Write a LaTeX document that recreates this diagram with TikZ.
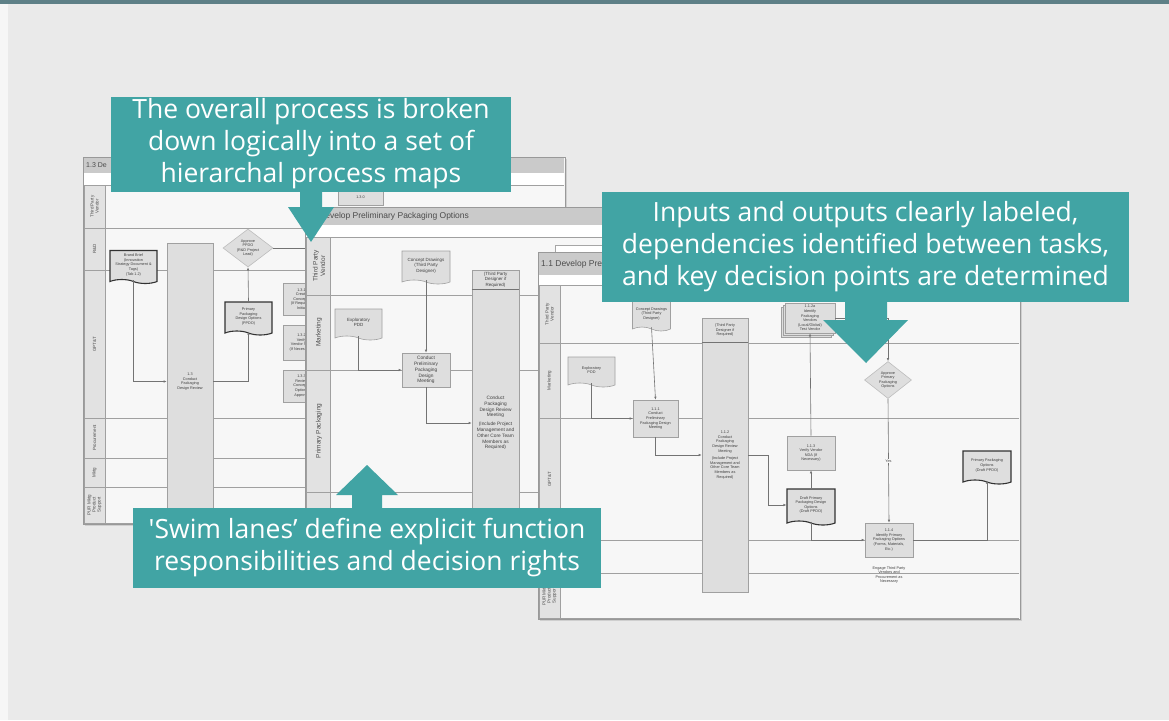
\documentclass[tikz,border=0pt]{standalone}
\usepackage{fontspec}
\setmainfont{Open Sans}
\newfontfamily\callfont{Open Sans}
\newfontfamily\mapfont{Liberation Sans}
\usetikzlibrary{shapes.geometric,shapes.symbols,shadows,arrows.meta}

\definecolor{slidebg}{RGB}{234,234,234}
\definecolor{topbar}{RGB}{94,128,135}
\definecolor{callteal}{RGB}{65,164,164}
\definecolor{sheetbg}{RGB}{247,247,247}
\definecolor{titlegray}{RGB}{202,202,202}
\definecolor{lanegray}{RGB}{226,226,226}
\definecolor{taskgray}{RGB}{222,222,222}
\definecolor{edgegray}{RGB}{160,160,160}

\tikzset{
  callout/.style={fill=callteal, text=white, align=center, inner sep=0pt,
    font=\callfont\fontsize{26.5}{32}\selectfont},
  sheet/.style={draw=black!40, line width=1pt, fill=sheetbg,
    drop shadow={opacity=.25, shadow xshift=1.5pt, shadow yshift=-2pt}},
  lanecol/.style={draw=edgegray, line width=.6pt, fill=lanegray},
  lane/.style={draw=edgegray, line width=.7pt},
  lanelabel/.style={rotate=90, align=center, text=black!70, inner sep=0pt,
    font=\mapfont\fontsize{4.5}{5}\selectfont},
  biglabel/.style={lanelabel, font=\mapfont\fontsize{6.5}{7.5}\selectfont},
  sheettitle/.style={anchor=west, inner sep=0pt, text=black!70,
    font=\mapfont\fontsize{8.5}{9}\selectfont},
  task/.style={draw=edgegray, line width=.6pt, fill=taskgray, align=center,
    inner sep=1pt, text=black!75, font=\mapfont\fontsize{3.8}{4.6}\selectfont},
  bigtask/.style={task, font=\mapfont\fontsize{4.8}{5.8}\selectfont},
  tasktext/.style={align=center, inner sep=0pt, text=black!75,
    font=\mapfont\fontsize{3.8}{4.6}\selectfont},
  doc/.style={task, tape, tape bend top=none, tape bend bottom=out and in,
    tape bend height=4pt},
  keydoc/.style={doc, draw=black!80, line width=1.1pt},
  decide/.style={task, diamond, aspect=1.3, inner sep=0pt, draw=edgegray!70},
  flow/.style={draw=black!55, line width=.6pt, -{Latex[length=3pt,width=2.5pt]}},
  plain/.style={draw=black!55, line width=.6pt},
  flowlabel/.style={fill=sheetbg, inner sep=.5pt, text=black!70,
    font=\mapfont\fontsize{3.8}{4.6}\selectfont},
}

\begin{document}
\begin{tikzpicture}[x=1pt,y=-1pt]
\useasboundingbox (0,0) rectangle (1169,720);
\fill[slidebg] (0,0) rectangle (1169,720);
\fill[white!55!slidebg] (0,4) rectangle (8,720);
\fill[topbar] (0,0) rectangle (1169,4);

% sheet 1.3
\draw[sheet] (83,157) rectangle (565,524);
\fill[titlegray] (84,158) rectangle (564,173);
\node[sheettitle, font=\mapfont\fontsize{7}{8}\selectfont] (s1title) at (86,165.5) {1.3 De};
\fill[white] (84,173) rectangle (564,185);
\draw[lane] (84,185) -- (564,185);
\draw[lanecol] (84,185) rectangle (105,523);
\foreach \ya/\yb/\lab [count=\i] in {185/228/{Third Party\\Vendor},228/270/{R\&D},270/418/{GPT\&T},
    418/458/{Procurement},458/487/{Mktg},487/523/{PUR Mktg\\Product\\Support}}
  {\draw[lane] (84,\yb) -- (564,\yb);
   \node[lanelabel] (s1lab\i) at (94.5,{(\ya+\yb)/2}) {\lab};}

\node[task, minimum width=45pt, minimum height=16pt] (s1top) at (360.5,197) {1.3.0};
\node[keydoc, minimum width=47pt, minimum height=33pt] (s1brief) at (133.5,265) {Brand Brief\\(Innovation\\Strategy Document \&\\Tags)\\(Tab 1.2)};
\node[task, minimum width=46pt, minimum height=277pt] (s1bar) at (190,381.5) {1.3\\Conduct\\Packaging\\Design Review};
\node[decide, minimum width=50pt, minimum height=38pt] (s1approve) at (248,248) {Approve\\PPDO\\(R\&D Project\\Lead)};
\node[keydoc, minimum width=47pt, minimum height=33pt] (s1options) at (248.5,316.5) {Primary\\Packaging\\Design Options\\(PPDO)};
\node[task, minimum width=37pt, minimum height=32pt] (s1create) at (301.5,299) {1.3.1\\Create\\Concepts\\(If Required)\\Initial};
\node[task, minimum width=37pt, minimum height=35pt] (s1verify) at (301.5,342.5) {1.3.2\\Verify\\Vendor NDA\\(If Necessary)};
\node[task, minimum width=37pt, minimum height=32pt] (s1review) at (301.5,386) {1.3.3\\Review\\Concepts\\Options\\Approve};
\coordinate (s1out) at (315,248);
\draw[flow] (s1brief.south) |- (s1bar.west);
\draw[flow] (s1bar.east) -| (s1options.south);
\draw[flow] (s1options.north) -- (s1approve.south);
\draw[plain] (s1approve.east) -- (s1out);

% sheet 1
\draw[sheet] (305,207) rectangle (790,576);
\fill[titlegray] (306,208) rectangle (789,225);
\node[sheettitle] (s2title) at (319,216.5) {Develop Preliminary Packaging Options};
\fill[white] (306,225) rectangle (789,237);
\draw[lane] (306,237) -- (789,237);
\draw[lanecol] (306,237) rectangle (330,575);
\foreach \ya/\yb/\lab [count=\i] in {237/295/{Third Party\\Vendor},295/370/{Marketing},370/492/{Primary Packaging},492/575/{GPT\&T}}
  {\draw[lane] (306,\yb) -- (789,\yb);
   \node[biglabel] (s2lab\i) at (319,{(\ya+\yb)/2}) {\lab};}

\node[doc, font=\mapfont\fontsize{4.5}{5.5}\selectfont, minimum width=48pt, minimum height=33pt] (s2concept) at (426,265.5) {Concept Drawings\\(Third Party\\Designer)};
\node[doc, font=\mapfont\fontsize{4.5}{5.5}\selectfont, minimum width=47pt, minimum height=31pt] (s2explore) at (358.5,322.5) {Exploratory\\PDD};
\node[bigtask, minimum width=48pt, minimum height=34pt] (s2meeting) at (426,370) {Conduct\\Preliminary\\Packaging\\Design\\Meeting};
\node[bigtask, minimum width=47pt, minimum height=306pt] (s2review) at (495.5,423) {Conduct\\Packaging\\Design Review\\Meeting\\[3pt](Include Project\\Management and\\Other Core Team\\Members as\\Required)};
\draw[plain] ([yshift=-20pt]s2review.north west) -- ([yshift=-20pt]s2review.north east);
\node[tasktext, font=\mapfont\fontsize{4.5}{5.5}\selectfont] (s2reviewhead) at ([yshift=-10pt]s2review.north) {(Third Party\\Designer if\\Required)};
\draw[flow] (s2concept.south) -- (s2meeting.north);
\draw[flow] (s2explore.south) |- (s2meeting.west);
\draw[flow] (s2meeting.south) |- (s2review.west);

% sheet 1.1
\draw[draw=black!35, line width=.8pt, fill=white] (555,245) rectangle (1016,612);
\draw[sheet] (538,252) rectangle (1020,619);
\fill[titlegray] (539,253) rectangle (1019,275);
\node[sheettitle] (s3title) at (541,264.5) {1.1 Develop Pre};
\fill[white] (539,275) rectangle (1019,285);
\draw[lane] (539,285) -- (1019,285);
\draw[lanecol] (539,285) rectangle (560,618);
\foreach \ya/\yb/\lab [count=\i] in {285/343/{Third Party\\Vendor},343/418/{Marketing},418/540/{GPT\&T},
    540/573/{Procurement},573/618/{PUR Mktg\\Product\\Support}}
  {\draw[lane] (539,\yb) -- (1019,\yb);
   \node[lanelabel] (s3lab\i) at (549.5,{(\ya+\yb)/2}) {\lab};}

\node[doc, minimum width=38pt, minimum height=30pt] (s3concept) at (651.5,314) {Concept Drawings\\(Third Party\\Designer)};
\node[doc, minimum width=47pt, minimum height=30pt] (s3explore) at (591.5,370) {Exploratory\\PDD};
\node[task, minimum width=45pt, minimum height=37pt] (s3meeting) at (655.5,418.5) {1.1.1\\Conduct\\Preliminary\\Packaging Design\\Meeting};
\node[task, minimum width=46pt, minimum height=274pt] (s3review) at (725,455) {1.1.2\\Conduct\\Packaging\\Design Review\\Meeting\\[3pt](Include Project\\Management and\\Other Core Team\\Members as\\Required)};
\draw[plain] ([yshift=-25pt]s3review.north west) -- ([yshift=-25pt]s3review.north east);
\node[tasktext] (s3reviewhead) at ([yshift=-12.5pt]s3review.north) {(Third Party\\Designer if\\Required)};
\node[task, minimum width=50pt, minimum height=30pt, double copy shadow={shadow xshift=-2pt, shadow yshift=-2pt}] (s3vendor) at (810,318) {1.1.2a\\Identify\\Packaging\\Vendors\\(Local/Global)\\Test Vendor};
\node[decide, minimum width=47pt, minimum height=37pt] (s3approve) at (888,380) {Approve\\Primary\\Packaging\\Options};
\node[task, minimum width=48pt, minimum height=34pt] (s3verify) at (811,453) {1.1.3\\Verify Vendor\\NDA (If\\Necessary)};
\node[keydoc, minimum width=48pt, minimum height=36pt] (s3draft) at (811,505) {Draft Primary\\Packaging Design\\Options\\(Draft PPDO)};
\node[task, minimum width=48pt, minimum height=34pt] (s3identify) at (889,540) {1.1.4\\Identify Primary\\Packaging Options\\(Forms, Materials,\\Etc.)};
\node[tasktext] (s3engage) at (889,575) {Engage Third Party\\Vendors and\\Procurement as\\Necessary};
\node[keydoc, minimum width=48pt, minimum height=33pt] (s3options) at (987,465.5) {Primary Packaging\\Options\\(Draft PPDO)};
\coordinate (s3bend) at (768,455);
\draw[flow] (s3concept.south) -- (s3meeting.north);
\draw[flow] (s3explore.south) |- (s3meeting.west);
\draw[flow] (s3meeting.south) |- (s3review.west);
\draw[flow] (s3review.east) -- (s3bend) |- (s3draft.west);
\draw[flow] (s3draft.north) -- (s3verify.south);
\draw[flow] (s3verify.north) -- (s3vendor.south);
\draw[flow] (s3vendor.east) -| (s3approve.north);
\draw[flow] (s3approve.south) -- node[flowlabel] (s3yes) {Yes} (s3identify.north);
\draw[flow] (s3draft.south) |- (s3identify.west);
\draw[flow] (s3identify.east) -| (s3options.south);

% callouts
\node[callout, minimum width=400pt, minimum height=95pt] (hier) at (311,144) {The overall process is broken\\down logically into a set of\\hierarchal process maps};
\fill[callteal] (300,190) -- (322,190) -- (322,207) -- (334,207) -- (311,242) -- (288,207) -- (300,207) -- cycle;
\node[callout, minimum width=527pt, minimum height=110pt] (inout) at (865.5,247) {Inputs and outputs clearly labeled,\\dependencies identified between tasks,\\and key decision points are determined};
\fill[callteal] (845,300) -- (887,300) -- (887,320) -- (908,320) -- (866,363) -- (823,320) -- (845,320) -- cycle;
\node[callout, minimum width=468pt, minimum height=80pt] (swim) at (367,548) {'Swim lanes’ define explicit function\\responsibilities and decision rights};
\fill[callteal] (352,510) -- (382,510) -- (382,495) -- (398,495) -- (367,465) -- (336,495) -- (352,495) -- cycle;
\end{tikzpicture}
\end{document}
